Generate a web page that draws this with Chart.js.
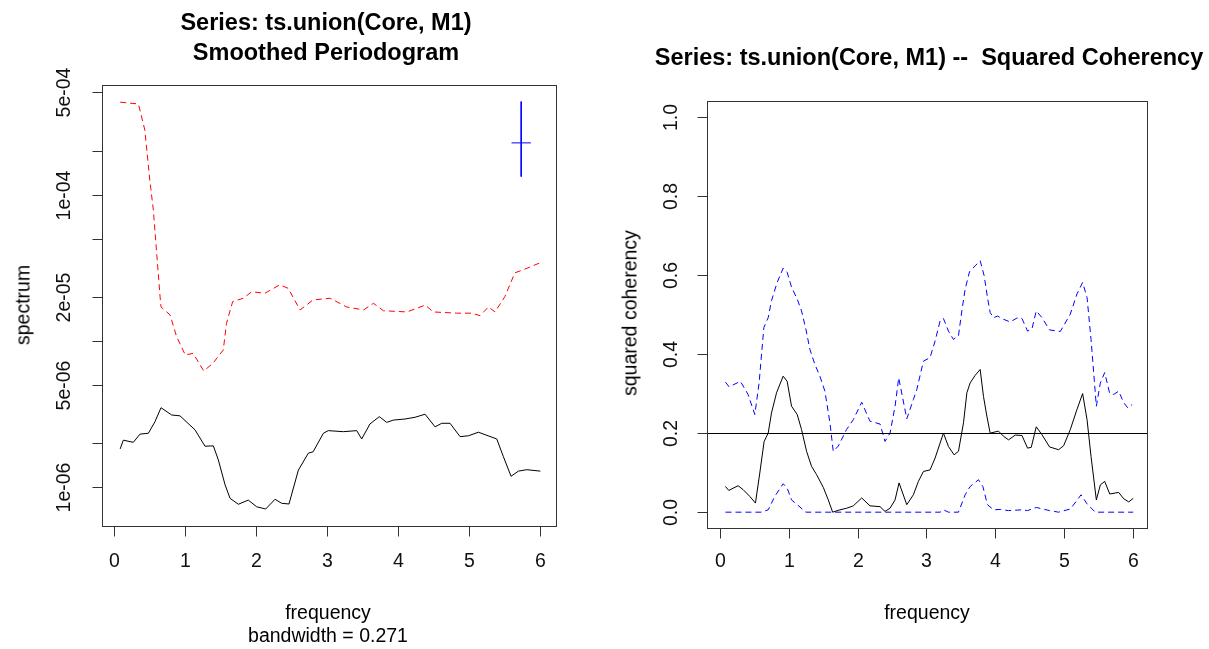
<!DOCTYPE html>
<html>
<head>
<meta charset="utf-8">
<script src="https://cdn.jsdelivr.net/npm/chart.js@4.4.1/dist/chart.umd.min.js"></script>
<style>
body{margin:0;background:#fff;width:1209px;height:649px;overflow:hidden;position:relative;font-family:"Liberation Sans",Arial,sans-serif;color:#000}
canvas{position:absolute;top:0}
.t{position:absolute;white-space:nowrap;transform:translate(-50%,-50%)}
.b{font-weight:bold;font-size:23.5px}
.l{font-size:19.5px}
.r{transform:translate(-50%,-50%) rotate(-90deg)}
</style>
</head>
<body>
<canvas id="izq" width="605" height="649" style="left:0"></canvas>
<canvas id="der" width="604" height="649" style="left:605px"></canvas>

<div class="t b" style="left:326px;top:22px">Series: ts.union(Core, M1)</div>
<div class="t b" style="left:326px;top:52px">Smoothed Periodogram</div>
<div class="t b" style="left:929px;top:57px">Series: ts.union(Core, M1) --&nbsp; Squared Coherency</div>
<div class="t l r" style="left:23px;top:305px">spectrum</div>
<div class="t l" style="left:328px;top:612px">frequency</div>
<div class="t l" style="left:328px;top:635px">bandwidth = 0.271</div>
<div class="t l r" style="left:630px;top:313px">squared coherency</div>
<div class="t l" style="left:927px;top:612px">frequency</div>

<script>
// periodograma suavizado (escala log)
const frec_roja=[0.083,0.34,0.43,0.50,0.55,0.597,0.645,0.658,0.785,0.878,1.0,1.11,1.26,1.39,1.535,1.58,1.667,1.817,1.935,2.12,2.33,2.45,2.615,2.80,3.04,3.27,3.51,3.65,3.79,4.12,4.38,4.49,4.82,5.03,5.15,5.27,5.36,5.50,5.64,5.81,6.0]
const espectro_rojo=[4.29e-4,4.17e-4,2.77e-4,1.26e-4,7.85e-5,3.98e-5,2.0e-5,1.71e-5,1.51e-5,1.07e-5,8.02e-6,8.24e-6,6.24e-6,7.05e-6,8.69e-6,1.32e-5,1.86e-5,1.96e-5,2.17e-5,2.12e-5,2.42e-5,2.29e-5,1.63e-5,1.91e-5,1.96e-5,1.71e-5,1.63e-5,1.81e-5,1.61e-5,1.58e-5,1.76e-5,1.58e-5,1.55e-5,1.55e-5,1.49e-5,1.71e-5,1.58e-5,2.01e-5,2.92e-5,3.14e-5,3.43e-5]

const frec_negra=[0.083,0.127,0.268,0.362,0.48,0.573,0.658,0.808,0.925,1.137,1.277,1.395,1.465,1.56,1.63,1.747,1.887,2.005,2.132,2.263,2.357,2.46,2.592,2.732,2.80,2.944,3.014,3.225,3.414,3.484,3.60,3.732,3.836,3.93,4.094,4.235,4.376,4.517,4.611,4.728,4.869,4.986,5.127,5.386,5.479,5.587,5.69,5.808,6.0]
const espectro_negro=[1.83e-6,2.10e-6,2.03e-6,2.31e-6,2.34e-6,2.81e-6,3.50e-6,3.12e-6,3.08e-6,2.47e-6,1.91e-6,1.92e-6,1.54e-6,1.04e-6,8.41e-7,7.66e-7,8.18e-7,7.36e-7,7.11e-7,8.28e-7,7.78e-7,7.69e-7,1.31e-6,1.71e-6,1.75e-6,2.34e-6,2.44e-6,2.40e-6,2.44e-6,2.14e-6,2.71e-6,3.04e-6,2.78e-6,2.88e-6,2.93e-6,3.01e-6,3.16e-6,2.59e-6,2.74e-6,2.74e-6,2.22e-6,2.25e-6,2.38e-6,2.14e-6,1.62e-6,1.19e-6,1.29e-6,1.32e-6,1.29e-6]

// cruz de ancho de banda
const cruz_x=[5.594,5.866]
const cruz_centro=[5.73,2.26e-4]
const cruz_y=[4.33e-4,1.33e-4]

const ticks_espectro=[5e-4,2e-4,1e-4,5e-5,2e-5,1e-5,5e-6,2e-6,1e-6]
const etiquetas_espectro=["5e-04","","1e-04","","2e-05","","5e-06","","1e-06"]

// coherencia al cuadrado
const frec_coh=[0.083,0.131,0.266,0.339,0.436,0.518,0.581,0.644,0.703,0.751,0.824,0.92,0.978,1.042,1.124,1.187,1.26,1.332,1.405,1.502,1.575,1.638,1.744,1.842,1.938,2.06,2.18,2.326,2.398,2.471,2.544,2.602,2.714,2.81,2.883,2.956,3.052,3.125,3.198,3.246,3.319,3.401,3.464,3.537,3.586,3.634,3.706,3.779,3.827,3.876,3.924,4.045,4.118,4.191,4.288,4.385,4.467,4.52,4.593,4.676,4.786,4.917,4.99,5.087,5.184,5.266,5.33,5.388,5.465,5.523,5.586,5.659,5.789,5.862,5.935,6.0]
const coherencia=[0.065,0.055,0.067,0.057,0.04,0.023,0.099,0.179,0.20,0.251,0.302,0.344,0.331,0.268,0.247,0.209,0.154,0.116,0.095,0.063,0.031,0.0,0.006,0.01,0.016,0.036,0.016,0.014,0.002,0.01,0.031,0.074,0.019,0.044,0.078,0.103,0.107,0.137,0.175,0.20,0.166,0.145,0.154,0.226,0.302,0.327,0.346,0.361,0.293,0.243,0.20,0.205,0.192,0.183,0.195,0.194,0.162,0.164,0.216,0.196,0.165,0.158,0.168,0.209,0.26,0.30,0.234,0.141,0.031,0.069,0.078,0.046,0.05,0.034,0.026,0.035]

const frec_sup=[0.083,0.136,0.30,0.41,0.509,0.571,0.64,0.703,0.751,0.833,0.92,0.978,1.042,1.124,1.187,1.25,1.308,1.38,1.453,1.526,1.599,1.647,1.72,1.84,1.938,2.06,2.18,2.326,2.398,2.471,2.544,2.597,2.714,2.81,2.859,2.956,3.052,3.125,3.198,3.246,3.319,3.391,3.464,3.513,3.561,3.624,3.706,3.779,3.837,3.885,3.924,3.973,4.031,4.118,4.215,4.312,4.385,4.467,4.531,4.593,4.676,4.786,4.942,5.087,5.184,5.266,5.33,5.388,5.465,5.523,5.586,5.659,5.717,5.789,5.862,5.92,5.984]
const limite_sup=[0.329,0.317,0.331,0.298,0.247,0.327,0.467,0.492,0.535,0.581,0.617,0.607,0.569,0.539,0.509,0.463,0.412,0.374,0.344,0.306,0.226,0.154,0.167,0.209,0.234,0.278,0.23,0.223,0.179,0.20,0.268,0.340,0.236,0.285,0.31,0.382,0.391,0.433,0.484,0.49,0.458,0.437,0.446,0.509,0.564,0.608,0.623,0.636,0.598,0.543,0.505,0.492,0.496,0.488,0.481,0.491,0.49,0.458,0.464,0.509,0.492,0.461,0.457,0.501,0.552,0.581,0.543,0.437,0.268,0.327,0.353,0.30,0.298,0.306,0.277,0.264,0.272]

const frec_inf=[0.083,0.60,0.703,0.799,0.92,0.978,1.042,1.124,1.25,3.198,3.246,3.319,3.464,3.561,3.634,3.755,3.818,3.885,3.973,4.07,4.19,4.385,4.467,4.593,4.786,4.917,5.087,5.184,5.243,5.33,5.45,6.0]
const limite_inf=[0,0,0.006,0.04,0.072,0.061,0.031,0.019,0,0,0.006,0,0,0.044,0.065,0.082,0.065,0.019,0.006,0.007,0.004,0.006,0.004,0.012,0.004,0,0.008,0.03,0.044,0.021,0,0]

const ticks_coh=[0,0.2,0.4,0.6,0.8,1.0]
const etiquetas_coh=["0.0","0.2","0.4","0.6","0.8","1.0"]
const linea_ref=0.2

const ticks_frec=[0,1,2,3,4,5,6]

function puntos(xs,ys){
    return xs.map((x,i)=>({x:x,y:ys[i]}))
}

// marco estilo R: caja, marcas y etiquetas
function marco(yticks,yetq,xlab_y,ylab_x,horiz){
    return {
        id:'marco',
        afterDatasetsDraw(chart){
            const c=chart.ctx
            const a=chart.chartArea
            const sx=chart.scales.x, sy=chart.scales.y
            c.save()
            if(horiz!=null){
                const yy=Math.round(sy.getPixelForValue(horiz))+0.5
                c.strokeStyle='#000';c.lineWidth=1
                c.beginPath();c.moveTo(a.left,yy);c.lineTo(a.right,yy);c.stroke()
            }
            c.strokeStyle='#333';c.lineWidth=1
            c.strokeRect(Math.round(a.left)+0.5,Math.round(a.top)+0.5,Math.round(a.right-a.left),Math.round(a.bottom-a.top))
            c.fillStyle='#111'
            c.font='19.5px "Liberation Sans", Arial, sans-serif'
            c.textAlign='center';c.textBaseline='middle'
            const yb=Math.round(a.bottom)+0.5
            ticks_frec.forEach(t=>{
                const px=Math.round(sx.getPixelForValue(t))+0.5
                c.beginPath();c.moveTo(px,yb);c.lineTo(px,yb+10);c.stroke()
                c.fillText(String(t),px,xlab_y)
            })
            const xl=Math.round(a.left)+0.5
            yticks.forEach((t,i)=>{
                const py=Math.round(sy.getPixelForValue(t))+0.5
                c.beginPath();c.moveTo(xl,py);c.lineTo(xl-10,py);c.stroke()
                if(yetq[i]!=""){
                    c.save();c.translate(ylab_x,py);c.rotate(-Math.PI/2)
                    c.fillText(yetq[i],0,0);c.restore()
                }
            })
            c.restore()
        }
    }
}

new Chart(document.getElementById('izq'),{
    type:'line',
    data:{datasets:[
        {data:puntos(frec_roja,espectro_rojo),borderColor:'#ff0000',borderWidth:1,borderDash:[6,4],pointRadius:0,tension:0},
        {data:puntos(frec_negra,espectro_negro),borderColor:'#000000',borderWidth:1,pointRadius:0,tension:0},
        {data:puntos(cruz_x,[cruz_centro[1],cruz_centro[1]]),borderColor:'#0000ff',borderWidth:1,pointRadius:0},
        {data:puntos([cruz_centro[0],cruz_centro[0]],cruz_y),borderColor:'#0000ff',borderWidth:1,pointRadius:0}
    ]},
    options:{
        responsive:false,animation:false,devicePixelRatio:1,
        layout:{padding:{left:102,top:85,right:49,bottom:123}},
        plugins:{legend:{display:false},tooltip:{enabled:false}},
        scales:{
            x:{type:'linear',min:-0.173,max:6.22,display:false},
            y:{type:'logarithmic',min:5.44e-7,max:5.62e-4,display:false}
        }
    },
    plugins:[marco(ticks_espectro,etiquetas_espectro,562,65,null)]
})

new Chart(document.getElementById('der'),{
    type:'line',
    data:{datasets:[
        {data:puntos(frec_coh,coherencia),borderColor:'#000000',borderWidth:1,pointRadius:0,tension:0},
        {data:puntos(frec_sup,limite_sup),borderColor:'#0000ff',borderWidth:1,borderDash:[6,4],pointRadius:0,tension:0},
        {data:puntos(frec_inf,limite_inf),borderColor:'#0000ff',borderWidth:1,borderDash:[6,4],pointRadius:0,tension:0}
    ]},
    options:{
        responsive:false,animation:false,devicePixelRatio:1,
        layout:{padding:{left:102,top:101,right:62,bottom:121}},
        plugins:{legend:{display:false},tooltip:{enabled:false}},
        scales:{
            x:{type:'linear',min:-0.185,max:6.2,display:false},
            y:{type:'linear',min:-0.04,max:1.04,display:false}
        }
    },
    plugins:[marco(ticks_coh,etiquetas_coh,562,67,linea_ref)]
})
</script>
</body>
</html>
